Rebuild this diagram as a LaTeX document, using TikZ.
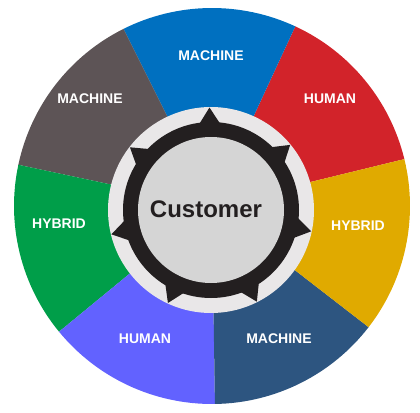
\documentclass[tikz,border=0pt]{standalone}
\usepackage{fontspec}
\setmainfont{Liberation Sans}
\usetikzlibrary{calc}
\definecolor{cBlue}{HTML}{0070C0}
\definecolor{cRed}{HTML}{D2232A}
\definecolor{cYellow}{HTML}{E0AA00}
\definecolor{cDark}{HTML}{2D5580}
\definecolor{cPurple}{HTML}{6262FF}
\definecolor{cGreen}{HTML}{009E49}
\definecolor{cGray}{HTML}{5D5456}
\definecolor{cLight}{HTML}{E9E7E8}
\definecolor{cRing}{HTML}{231F20}
\definecolor{cCenter}{HTML}{D5D5D5}
\tikzset{
  seglabel/.style={text=white,font=\fontsize{14}{14}\selectfont\bfseries,inner sep=0pt},
  hublabel/.style={text=cRing,font=\fontsize{24}{24}\selectfont\bfseries,inner sep=0pt}
}
\begin{document}
\begin{tikzpicture}[x=1pt,y=1pt]
\useasboundingbox (0,0) rectangle (420,-412);
\coordinate (O) at (212,-206);
\coordinate (C) at (211,-210);
% segments
\foreach \k/\col in {0/cRed,1/cBlue,2/cGray,3/cGreen,4/cPurple,5/cDark,6/cYellow}{
  \pgfmathsetmacro{\sa}{13.7+\k*51.4286}
  \pgfmathsetmacro{\ea}{\sa+51.4286}
  \fill[\col] (O) -- ++(\sa:198) arc[start angle=\sa, end angle=\ea, radius=198] -- cycle;
}
% light ring
\fill[cLight] (C) circle[radius=103];
% dark ring
\fill[cRing] (C) circle[radius=88];
% spikes
\foreach \k in {0,...,6}{
  \pgfmathsetmacro{\a}{90.86-\k*51.4286}
  \fill[cRing] ($(C)+(\a:102.5)$) -- ($(C)+(\a+8.5:84)$) -- ($(C)+(\a-8.5:84)$) -- cycle;
}
% center
\fill[cCenter] (C) circle[radius=73];
% labels
\node[seglabel] (l1) at (211,-56) {MACHINE};
\node[seglabel] (l2) at (330,-99) {HUMAN};
\node[seglabel] (l3) at (358,-226) {HYBRID};
\node[seglabel] (l4) at (279,-339) {MACHINE};
\node[seglabel] (l5) at (145,-339) {HUMAN};
\node[seglabel] (l6) at (59,-224) {HYBRID};
\node[seglabel] (l7) at (90,-99) {MACHINE};
\node[hublabel] (hub) at (206,-209) {Customer};
\end{tikzpicture}
\end{document}
